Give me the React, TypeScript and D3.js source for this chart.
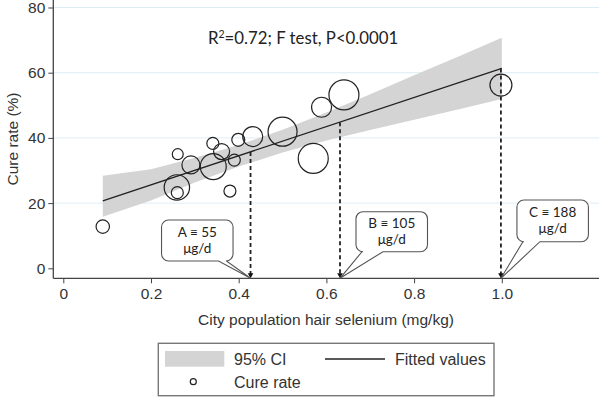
import React, { useEffect, useRef } from 'react';
import * as d3 from 'd3';

// hair selenium (mg/kg) per city, cure rate (%), and relative city weight (marker area)
const selenium = [0.09, 0.259, 0.26, 0.261, 0.291, 0.342, 0.341, 0.361, 0.39, 0.38, 0.399, 0.432, 0.5, 0.57, 0.589, 0.64, 0.998];
const cureRate = [12.8, 24.8, 23.2, 35.0, 31.7, 31.2, 38.3, 35.8, 33.2, 23.7, 39.4, 40.4, 41.9, 33.7, 49.4, 53.2, 56.2];
const weights = [45, 161, 36, 30, 81, 169, 36, 64, 36, 36, 42, 100, 210, 225, 100, 225, 121];

// fitted line and 95% CI band
const fitX = [0.09, 1.0];
const fitY = [20.7, 61.3];
const ciX = [0.09, 0.2, 0.3, 0.4, 0.5, 0.6, 0.7, 0.8, 0.9, 1.0];
const ciLow = [15.8, 20.8, 26.3, 31.2, 35.5, 39.2, 42.4, 45.6, 48.7, 51.9];
const ciHigh = [28.4, 30.4, 33.9, 37.8, 42.5, 47.8, 53.4, 59.2, 64.9, 70.7];

// dose markers
const doseX = [0.427, 0.631, 0.998];
const doseY = [35.7, 44.8, 61.3];
const doseLabels = ['A ≡ 55', 'B ≡ 105', 'C ≡ 188'];

const xTicks = [0, 0.2, 0.4, 0.6, 0.8, 1.0];
const yTicks = [0, 20, 40, 60, 80];

const W = 599;
const H = 398;

export default function App() {
    const ref = useRef<SVGSVGElement>(null);

    useEffect(() => {
        const svg = d3.select(ref.current);
        svg.selectAll('*').remove();

        const axisFont = '"Liberation Sans", Arial, sans-serif';
        const noteFont = 'Lato, "Open Sans", sans-serif';

        const left = 53.3, bottom = 278.3;
        const x = d3.scaleLinear().domain([0, 1]).range([63.3, 501.8]);
        const y = d3.scaleLinear().domain([0, 80]).range([268.3, 7.5]);
        const r = d3.scaleSqrt().domain([0, 225]).range([0, 15]);

        svg.append('rect').attr('width', W).attr('height', H).attr('fill', '#fff');

        // gridlines
        svg.selectAll('.grid')
            .data(yTicks.filter(d => d > 0))
            .enter().append('line')
            .attr('x1', left).attr('x2', W)
            .attr('y1', d => y(d)).attr('y2', d => y(d))
            .attr('stroke', '#deedf5').attr('stroke-width', 1);

        // CI band
        const area = d3.area<number>()
            .x((d, i) => x(ciX[i]))
            .y0((d, i) => y(ciLow[i]))
            .y1((d, i) => y(ciHigh[i]));
        svg.append('path')
            .attr('d', area(ciX))
            .attr('fill', '#d4d4d4');

        // fitted line
        const line = d3.line<number>()
            .x((d, i) => x(fitX[i]))
            .y((d, i) => y(fitY[i]));
        svg.append('path')
            .attr('d', line(fitX))
            .attr('fill', 'none')
            .attr('stroke', '#222')
            .attr('stroke-width', 1.3);

        // circles
        svg.selectAll('.pt')
            .data(selenium)
            .enter().append('circle')
            .attr('cx', d => x(d))
            .attr('cy', (d, i) => y(cureRate[i]))
            .attr('r', (d, i) => r(weights[i]))
            .attr('fill', 'none')
            .attr('stroke', '#222')
            .attr('stroke-width', 1.2);

        // dashed drop lines with arrowheads
        doseX.forEach((dx, i) => {
            const px = x(dx);
            svg.append('line')
                .attr('x1', px).attr('x2', px)
                .attr('y1', y(doseY[i])).attr('y2', bottom - 4)
                .attr('stroke', '#222')
                .attr('stroke-width', 1.8)
                .attr('stroke-dasharray', '4,3');
            svg.append('path')
                .attr('d', `M${px - 2.8},${bottom - 5}L${px + 2.8},${bottom - 5}L${px},${bottom}Z`)
                .attr('fill', '#111');
        });

        // axes
        svg.append('line')
            .attr('x1', left).attr('x2', W)
            .attr('y1', bottom).attr('y2', bottom)
            .attr('stroke', '#444').attr('stroke-width', 1.3);
        svg.append('line')
            .attr('x1', left).attr('x2', left)
            .attr('y1', 0).attr('y2', bottom)
            .attr('stroke', '#444').attr('stroke-width', 1.3);

        const xAxis = svg.append('g')
            .attr('transform', `translate(0,${bottom})`)
            .call(d3.axisBottom(x).tickValues(xTicks).tickSize(5).tickPadding(5)
                .tickFormat(d => (+d === 0 ? '0' : d3.format('.1f')(+d))));
        xAxis.select('.domain').remove();
        xAxis.selectAll('line').attr('stroke', '#444');
        xAxis.selectAll('text')
            .attr('font-family', axisFont).attr('font-size', 15.5).attr('fill', '#333');

        const yAxis = svg.append('g')
            .attr('transform', `translate(${left},0)`)
            .call(d3.axisLeft(y).tickValues(yTicks).tickSize(5).tickPadding(3));
        yAxis.select('.domain').remove();
        yAxis.selectAll('line').attr('stroke', '#444');
        yAxis.selectAll('text')
            .attr('font-family', axisFont).attr('font-size', 15.5).attr('fill', '#333');

        // axis titles
        svg.append('text')
            .attr('x', 326).attr('y', 325)
            .attr('text-anchor', 'middle')
            .attr('font-family', axisFont).attr('font-size', 15.5).attr('fill', '#333')
            .text('City population hair selenium (mg/kg)');
        svg.append('text')
            .attr('transform', 'translate(18,139) rotate(-90)')
            .attr('text-anchor', 'middle')
            .attr('font-family', axisFont).attr('font-size', 15.5).attr('fill', '#333')
            .text('Cure rate (%)');

        // R2 annotation
        const note = svg.append('text')
            .attr('x', 208).attr('y', 44)
            .attr('font-family', noteFont).attr('font-size', 16.8).attr('fill', '#222');
        note.append('tspan').text('R');
        note.append('tspan').attr('font-size', 10.5).attr('dy', -6.5).text('2');
        note.append('tspan').attr('dy', 6.5).text('=0.72; F test, P<0.0001');

        // callouts: box offsets relative to tip
        const boxes = [
            { x0: -89, x1: -17.5, y0: 220, y1: 261, ta: -32, tb: -24 },
            { x0: 16, x1: 87.5, y0: 211.7, y1: 251.7, ta: 22, tb: 43 },
            { x0: 16, x1: 87.5, y0: 200, y1: 241.7, ta: 22, tb: 39 }
        ];
        doseX.forEach((dx, i) => {
            const tipX = x(dx);
            const tipY = bottom;
            const b = boxes[i];
            const x0 = tipX + b.x0, x1 = tipX + b.x1, y0 = b.y0, y1 = b.y1;
            const rr = 7;
            const ta = tipX + b.ta, tb = tipX + b.tb;
            const p = d3.path();
            p.moveTo(x0 + rr, y0);
            p.lineTo(x1 - rr, y0);
            p.arcTo(x1, y0, x1, y0 + rr, rr);
            p.lineTo(x1, y1 - rr);
            p.arcTo(x1, y1, x1 - rr, y1, rr);
            p.lineTo(tb, y1);
            p.lineTo(tipX, tipY);
            p.lineTo(ta, y1);
            p.lineTo(x0 + rr, y1);
            p.arcTo(x0, y1, x0, y1 - rr, rr);
            p.lineTo(x0, y0 + rr);
            p.arcTo(x0, y0, x0 + rr, y0, rr);
            p.closePath();
            svg.append('path')
                .attr('d', p.toString())
                .attr('fill', '#fff')
                .attr('stroke', '#555')
                .attr('stroke-width', 1.1);
            const cx = (x0 + x1) / 2;
            const cy = (y0 + y1) / 2;
            svg.append('text')
                .attr('x', cx).attr('y', cy - 3.5)
                .attr('text-anchor', 'middle')
                .attr('font-family', noteFont).attr('font-size', 13.5).attr('fill', '#222')
                .text(doseLabels[i]);
            svg.append('text')
                .attr('x', cx).attr('y', cy + 12)
                .attr('text-anchor', 'middle')
                .attr('font-family', noteFont).attr('font-size', 13.5).attr('fill', '#222')
                .text('μg/d');
        });

        // legend
        const lg = svg.append('g');
        lg.append('rect')
            .attr('x', 158.3).attr('y', 343.3).attr('width', 335.7).attr('height', 52.4)
            .attr('fill', '#fff').attr('stroke', '#777').attr('stroke-width', 1.4);
        lg.append('rect')
            .attr('x', 165).attr('y', 351).attr('width', 59.3).attr('height', 15.7)
            .attr('fill', '#d4d4d4');
        lg.append('line')
            .attr('x1', 325).attr('x2', 385).attr('y1', 359).attr('y2', 359)
            .attr('stroke', '#222').attr('stroke-width', 1.3);
        lg.append('circle')
            .attr('cx', 193.3).attr('cy', 381.7).attr('r', 3)
            .attr('fill', 'none').attr('stroke', '#222').attr('stroke-width', 1.2);
        const legendText = [
            { tx: 234, ty: 364.8, label: '95% CI' },
            { tx: 395, ty: 364.8, label: 'Fitted values' },
            { tx: 234, ty: 387.5, label: 'Cure rate' }
        ];
        legendText.forEach(t => {
            lg.append('text')
                .attr('x', t.tx).attr('y', t.ty)
                .attr('font-family', axisFont).attr('font-size', 16).attr('fill', '#333')
                .text(t.label);
        });
    }, []);

    return (
        <svg ref={ref} width={W} height={H}
            style={{ position: 'absolute', left: 0, top: 0, display: 'block' }} />
    );
}
